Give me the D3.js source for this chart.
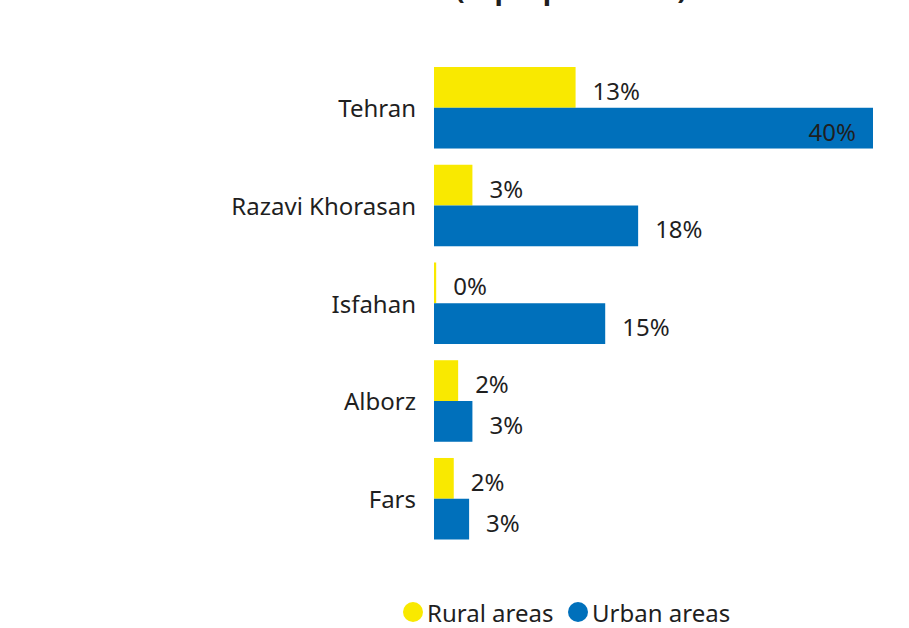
<!DOCTYPE html>
<html>
<head>
<meta charset="utf-8">
<script src="https://cdn.jsdelivr.net/npm/d3@7"></script>
<style>
  body { margin: 0; background: #fff; }
  svg text { font-family: "Segoe UI", "Noto Sans", sans-serif; fill: #1f1f1f; }
</style>
</head>
<body>
<div id="chart"></div>
<script>
// data
const provinces = ["Tehran", "Razavi Khorasan", "Isfahan", "Alborz", "Fars"];
const rural = [12.9, 3.5, 0.2, 2.2, 1.8];
const urban = [40, 18.6, 15.6, 3.5, 3.2];
const ruralLabels = ["13%", "3%", "0%", "2%", "2%"];
const urbanLabels = ["40%", "18%", "15%", "3%", "3%"];
const seriesNames = ["Rural areas", "Urban areas"];
const colors = ["#f9e900", "#0070bb"];

const width = 909;
const height = 628;

const svg = d3
  .select("#chart")
  .append("svg")
  .attr("width", width)
  .attr("height", height);

// title, mostly scrolled off the top (as in the original)
svg
  .append("text")
  .attr("x", 571)
  .attr("y", -1)
  .style("font-size", "28px")
  .style("font-weight", "bold")
  .style("text-anchor", "middle")
  .text("(top 5 provinces)");

// scales
const x = d3.scaleLinear().domain([0, 40]).range([434, 873]);
const y = d3
  .scaleBand()
  .domain(provinces)
  .range([67, 539.5])
  .paddingInner(0.166)
  .paddingOuter(0);
const half = y.bandwidth() / 2;

const rows = provinces.map((p, i) => ({
  name: p,
  rural: rural[i],
  urban: urban[i],
  ruralLabel: ruralLabels[i],
  urbanLabel: urbanLabels[i],
}));

// category labels
svg
  .selectAll("catLabel")
  .data(rows)
  .join("text")
  .attr("x", 416)
  .attr("y", (d) => y(d.name) + half)
  .attr("dominant-baseline", "central")
  .style("text-anchor", "end")
  .style("font-size", "24px")
  .text((d) => d.name);

// rural bars
svg
  .selectAll("ruralBar")
  .data(rows)
  .join("rect")
  .attr("x", x(0))
  .attr("y", (d) => y(d.name))
  .attr("width", (d) => x(d.rural) - x(0))
  .attr("height", half)
  .style("fill", colors[0]);

// urban bars
svg
  .selectAll("urbanBar")
  .data(rows)
  .join("rect")
  .attr("x", x(0))
  .attr("y", (d) => y(d.name) + half)
  .attr("width", (d) => x(d.urban) - x(0))
  .attr("height", half)
  .style("fill", colors[1]);

// value labels, rural
svg
  .selectAll("ruralLabel")
  .data(rows)
  .join("text")
  .attr("x", (d) => x(d.rural) + 17)
  .attr("y", (d) => y(d.name) + half / 2 + 3)
  .attr("dominant-baseline", "central")
  .style("font-size", "24px")
  .text((d) => d.ruralLabel);

// value labels, urban (inside the bar when it is too long)
svg
  .selectAll("urbanLabel")
  .data(rows)
  .join("text")
  .attr("x", (d) => (d.urban > 30 ? x(d.urban) - 17 : x(d.urban) + 17))
  .attr("y", (d) => y(d.name) + half * 1.5 + 3)
  .attr("dominant-baseline", "central")
  .style("text-anchor", (d) => (d.urban > 30 ? "end" : "start"))
  .style("font-size", "24px")
  .text((d) => d.urbanLabel);

// legend
const legendX = [413, 578];
const legend = svg
  .selectAll("legendItem")
  .data(seriesNames)
  .join("g")
  .attr("transform", (d, i) => `translate(${legendX[i]}, 612)`);

legend
  .append("circle")
  .attr("r", 10)
  .style("fill", (d, i) => colors[i]);

legend
  .append("text")
  .attr("x", 14)
  .attr("dominant-baseline", "central")
  .style("font-size", "24px")
  .text((d) => d);
</script>
</body>
</html>
